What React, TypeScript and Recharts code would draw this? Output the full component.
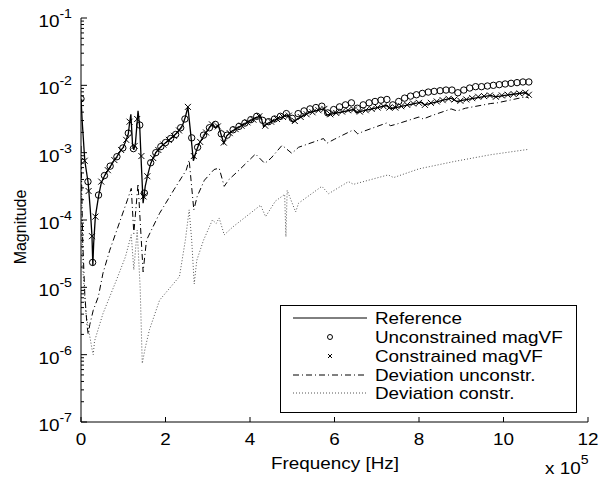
import React from 'react';
import { ComposedChart, Line, XAxis, YAxis, Legend } from 'recharts';

// frequency in units of 1e5 Hz, magnitudes stored as log10 values
const refF = [0, 0.03, 0.09, 0.17, 0.22, 0.26, 0.28, 0.30, 0.34, 0.42, 0.48, 0.56, 0.64, 0.70, 0.79, 0.85, 0.95, 1.00, 1.07, 1.12, 1.15, 1.18, 1.22, 1.25, 1.29, 1.35, 1.39, 1.43, 1.47, 1.52, 1.58, 1.65, 1.77, 1.89, 2.05, 2.16, 2.28, 2.40, 2.47, 2.53, 2.59, 2.66, 2.72, 2.80, 2.96, 3.11, 3.18, 3.25, 3.30, 3.38, 3.45, 3.55, 3.82, 4.05, 4.25, 4.32, 4.40, 4.60, 4.88, 5.02, 5.15, 5.39, 5.74, 5.82, 5.90, 6.45, 6.52, 6.60, 7.23, 7.33, 7.45, 8.05, 8.13, 8.25, 8.76, 8.90, 9.05, 9.70, 9.80, 10.49, 10.60];
const refLog = [-2.20, -2.55, -3.12, -3.45, -3.85, -4.24, -4.68, -4.35, -3.95, -3.63, -3.45, -3.34, -3.26, -3.20, -3.11, -3.06, -2.96, -2.92, -2.81, -2.72, -2.56, -2.43, -2.88, -2.96, -2.85, -2.38, -2.62, -3.20, -3.75, -3.50, -3.33, -3.16, -3.00, -2.91, -2.83, -2.77, -2.70, -2.60, -2.47, -2.32, -2.68, -3.12, -2.99, -2.86, -2.70, -2.57, -2.63, -2.59, -2.70, -2.86, -2.75, -2.69, -2.59, -2.51, -2.45, -2.61, -2.57, -2.51, -2.44, -2.55, -2.49, -2.41, -2.35, -2.44, -2.43, -2.36, -2.41, -2.39, -2.30, -2.35, -2.33, -2.25, -2.29, -2.27, -2.19, -2.24, -2.22, -2.15, -2.17, -2.11, -2.14];

const uncF = [0, 0.165, 0.275, 0.415, 0.555, 0.69, 0.85, 0.99, 1.12, 1.24, 1.39, 1.50, 1.65, 1.77, 1.89, 2.00, 2.12, 2.24, 2.36, 2.46, 2.62, 2.76, 2.90, 3.04, 3.18, 3.32, 3.46, 3.60, 3.74, 3.88, 4.02, 4.16, 4.30, 4.44, 4.58, 4.72, 4.86, 5.00, 5.14, 5.28, 5.42, 5.56, 5.70, 5.84, 5.98, 6.12, 6.26, 6.40, 6.54, 6.68, 6.82, 6.96, 7.10, 7.24, 7.38, 7.52, 7.66, 7.80, 7.94, 8.08, 8.22, 8.36, 8.50, 8.64, 8.78, 8.92, 9.06, 9.20, 9.34, 9.48, 9.62, 9.76, 9.90, 10.04, 10.18, 10.32, 10.46, 10.60];
const uncLog = [-2.20, -3.43, -4.63, -3.63, -3.34, -3.20, -3.06, -2.93, -2.71, -2.94, -2.59, -3.60, -3.15, -3.00, -2.91, -2.85, -2.79, -2.73, -2.63, -2.50, -2.78, -2.92, -2.74, -2.63, -2.58, -2.72, -2.74, -2.66, -2.61, -2.56, -2.51, -2.46, -2.52, -2.54, -2.50, -2.46, -2.42, -2.49, -2.42, -2.38, -2.35, -2.33, -2.31, -2.41, -2.36, -2.32, -2.29, -2.26, -2.34, -2.29, -2.26, -2.24, -2.22, -2.21, -2.29, -2.24, -2.19, -2.16, -2.14, -2.12, -2.10, -2.09, -2.08, -2.07, -2.07, -2.11, -2.07, -2.04, -2.02, -2.02, -2.01, -2.00, -1.99, -1.98, -1.97, -1.96, -1.95, -1.95];

const conF = [0.087, 0.18, 0.26, 0.34, 0.48, 0.635, 0.79, 0.95, 1.07, 1.15, 1.27, 1.33, 1.43, 1.48, 1.57, 1.71, 1.83, 1.95, 2.08, 2.20, 2.32, 2.53, 2.67, 2.82, 2.96, 3.10, 3.24, 3.38, 3.52, 3.66, 3.80, 3.94, 4.08, 4.22, 4.36, 4.50, 4.64, 4.78, 4.92, 5.06, 5.20, 5.34, 5.48, 5.62, 5.76, 5.90, 6.04, 6.18, 6.32, 6.46, 6.60, 6.74, 6.88, 7.02, 7.16, 7.30, 7.44, 7.58, 7.72, 7.86, 8.00, 8.14, 8.28, 8.42, 8.56, 8.70, 8.84, 8.98, 9.12, 9.26, 9.40, 9.54, 9.68, 9.82, 9.96, 10.10, 10.24, 10.38, 10.52, 10.60];
const conLog = [-3.12, -3.57, -4.24, -3.95, -3.43, -3.26, -3.11, -2.96, -2.81, -2.54, -2.90, -2.50, -3.05, -3.65, -3.35, -3.08, -2.96, -2.88, -2.81, -2.75, -2.67, -2.32, -3.05, -2.84, -2.70, -2.58, -2.61, -2.85, -2.71, -2.65, -2.60, -2.55, -2.51, -2.46, -2.60, -2.54, -2.50, -2.47, -2.45, -2.53, -2.47, -2.43, -2.40, -2.37, -2.35, -2.43, -2.41, -2.39, -2.37, -2.36, -2.39, -2.37, -2.35, -2.33, -2.31, -2.33, -2.33, -2.31, -2.29, -2.27, -2.26, -2.29, -2.26, -2.24, -2.22, -2.20, -2.21, -2.23, -2.21, -2.19, -2.17, -2.16, -2.15, -2.17, -2.15, -2.14, -2.13, -2.12, -2.11, -2.14];

const devUncF = [0, 0.04, 0.09, 0.14, 0.17, 0.21, 0.29, 0.41, 0.52, 0.68, 0.96, 1.10, 1.19, 1.25, 1.35, 1.47, 1.55, 1.86, 2.20, 2.49, 2.56, 2.67, 2.75, 2.92, 3.15, 3.27, 3.39, 3.50, 3.74, 4.13, 4.35, 4.50, 4.76, 4.99, 5.15, 5.74, 5.82, 6.00, 6.45, 6.55, 6.70, 7.23, 7.33, 7.50, 8.00, 8.10, 8.30, 8.76, 8.90, 9.10, 9.70, 9.85, 10.53, 10.60];
const devUncLog = [-2.90, -4.30, -5.10, -5.55, -5.70, -5.55, -5.34, -5.14, -4.79, -4.45, -3.95, -3.70, -3.53, -4.20, -3.46, -4.77, -4.30, -3.90, -3.55, -3.26, -3.11, -3.85, -3.65, -3.41, -3.25, -3.23, -3.50, -3.40, -3.26, -3.02, -3.16, -3.08, -2.89, -3.01, -2.92, -2.79, -2.86, -2.80, -2.66, -2.72, -2.68, -2.56, -2.60, -2.57, -2.47, -2.50, -2.45, -2.35, -2.38, -2.34, -2.27, -2.26, -2.17, -2.19];

const devConF = [0, 0.05, 0.12, 0.20, 0.27, 0.29, 0.32, 0.52, 0.84, 1.05, 1.19, 1.25, 1.33, 1.40, 1.45, 1.52, 1.62, 1.86, 2.33, 2.47, 2.56, 2.62, 2.68, 2.74, 2.90, 3.11, 3.20, 3.27, 3.39, 3.60, 4.25, 4.37, 4.60, 4.82, 4.85, 4.88, 5.08, 5.15, 5.70, 5.86, 6.33, 6.45, 7.27, 7.40, 8.00, 8.84, 9.70, 10.60];
const devConLog = [-3.20, -4.80, -5.40, -5.70, -5.95, -6.00, -5.80, -5.39, -4.89, -4.55, -4.22, -4.74, -4.15, -5.00, -6.13, -5.90, -5.63, -5.19, -4.84, -4.30, -3.85, -4.30, -4.95, -4.60, -4.30, -4.00, -4.05, -3.97, -4.22, -4.10, -3.78, -3.95, -3.72, -3.62, -4.25, -3.56, -3.88, -3.75, -3.50, -3.61, -3.43, -3.47, -3.33, -3.37, -3.24, -3.13, -3.03, -2.95];

const xTicks = [0, 2, 4, 6, 8, 10, 12];
const yDecades = [-7, -6, -5, -4, -3, -2, -1];
const yMinor = [2, 3, 4, 5, 6, 7, 8, 9];

const toSeries = (f: number[], lg: number[]) => f.map((x, i) => ({ f: x, v: Math.pow(10, lg[i]) }));

const refData = toSeries(refF, refLog);
const uncData = toSeries(uncF, uncLog);
const conData = toSeries(conF, conLog);
const devUncData = toSeries(devUncF, devUncLog);
const devConData = toSeries(devConF, devConLog);

const yTicks = [
  ...yDecades.map((d) => Math.pow(10, d)),
  ...yDecades.slice(0, -1).flatMap((d) => yMinor.map((m) => m * Math.pow(10, d))),
].sort((a, b) => a - b);

const FONT = "'Liberation Sans', Arial, Helvetica, sans-serif";
const SX = 1.18;

const isDecade = (v: number) => {
  const e = Math.log10(v);
  return Math.abs(e - Math.round(e)) < 1e-6;
};

const LeftTick = (props: any) => {
  const { x, y, payload } = props;
  const major = isDecade(payload.value);
  return (
    <g>
      <line x1={x} x2={x + (major ? 6 : 3)} y1={y} y2={y} stroke="#000" />
      {major && (
        <g transform={`translate(${x - 9},${y + 9}) scale(${SX},1)`}>
          <text textAnchor="end" fontFamily={FONT} fontSize={16} fill="#000">
            <tspan>10</tspan>
            <tspan fontSize={12} dy={-9}>{String(Math.round(Math.log10(payload.value)))}</tspan>
          </text>
        </g>
      )}
    </g>
  );
};

const RightTick = (props: any) => {
  const { x, y, payload } = props;
  const major = isDecade(payload.value);
  return <line x1={x} x2={x - (major ? 6 : 3)} y1={y} y2={y} stroke="#000" />;
};

const BottomTick = (props: any) => {
  const { x, y, payload } = props;
  return (
    <g>
      <line x1={x} x2={x} y1={y} y2={y - 5} stroke="#000" />
      <g transform={`translate(${x},${y + 23}) scale(${SX},1)`}>
        <text textAnchor="middle" fontFamily={FONT} fontSize={16} fill="#000">{payload.value}</text>
      </g>
    </g>
  );
};

const TopTick = (props: any) => {
  const { x, y } = props;
  return <line x1={x} x2={x} y1={y} y2={y + 5} stroke="#000" />;
};

const XTitle = () => (
  <g>
    <g transform={`translate(335,469) scale(${SX},1)`}>
      <text textAnchor="middle" fontFamily={FONT} fontSize={16} fill="#000">Frequency [Hz]</text>
    </g>
    <g transform={`translate(545,474) scale(${SX},1)`}>
      <text fontFamily={FONT} fontSize={16} fill="#000">
        <tspan>x 10</tspan>
        <tspan fontSize={12} dy={-10}>5</tspan>
      </text>
    </g>
  </g>
);

const YTitle = () => (
  <text
    transform="translate(26,227) rotate(-90)"
    textAnchor="middle"
    fontFamily={FONT}
    fontSize={16}
    fill="#000"
  >
    Magnitude
  </text>
);

const CircleMark = (p: any) => {
  if (p.cx == null || p.cy == null) return null;
  return <circle key={`c${p.index}`} cx={p.cx} cy={p.cy} r={3.2} fill="none" stroke="#000" strokeWidth={1} />;
};

const CrossMark = (p: any) => {
  if (p.cx == null || p.cy == null) return null;
  const s = 3;
  return (
    <path
      key={`x${p.index}`}
      d={`M${p.cx - s},${p.cy - s}L${p.cx + s},${p.cy + s}M${p.cx - s},${p.cy + s}L${p.cx + s},${p.cy - s}`}
      stroke="#000"
      strokeWidth={1}
      fill="none"
    />
  );
};

const legendRows = [
  'Reference',
  'Unconstrained magVF',
  'Constrained magVF',
  'Deviation unconstr.',
  'Deviation constr.',
];

const LegendBox = () => {
  const rowY = [13, 32, 51, 70, 88];
  return (
    <svg width={297} height={108} style={{ display: 'block' }}>
      <rect x={0.5} y={0.5} width={296} height={107} fill="#fff" stroke="#000" />
      <line x1={13} x2={87} y1={rowY[0]} y2={rowY[0]} stroke="#000" />
      <circle cx={50} cy={rowY[1]} r={2.5} fill="none" stroke="#000" />
      <path d={`M${48},${rowY[2] - 2}L${52},${rowY[2] + 2}M${48},${rowY[2] + 2}L${52},${rowY[2] - 2}`} stroke="#000" />
      <line x1={13} x2={87} y1={rowY[3]} y2={rowY[3]} stroke="#000" strokeDasharray="6 3 1 3" />
      <line x1={13} x2={87} y1={rowY[4]} y2={rowY[4]} stroke="#555" strokeDasharray="1 2" />
      {legendRows.map((t, i) => (
        <g key={t} transform={`translate(95,${rowY[i] + 6}) scale(${SX},1)`}>
          <text fontFamily={FONT} fontSize={16} fill="#000">{t}</text>
        </g>
      ))}
    </svg>
  );
};

export default function App() {
  return (
    <div style={{ position: 'absolute', left: 0, top: 0, width: 602, height: 480, background: '#fff' }}>
      <ComposedChart width={602} height={480} margin={{ top: 18, right: 14, bottom: 0, left: 0 }}>
        <XAxis
          xAxisId="b"
          dataKey="f"
          type="number"
          domain={[0, 12]}
          ticks={xTicks}
          interval={0}
          allowDataOverflow
          height={58}
          tickSize={0}
          tickMargin={0}
          tickLine={false}
          axisLine={{ stroke: '#000' }}
          tick={BottomTick}
          label={<XTitle />}
        />
        <XAxis
          xAxisId="t"
          orientation="top"
          dataKey="f"
          type="number"
          domain={[0, 12]}
          ticks={xTicks}
          interval={0}
          allowDataOverflow
          height={0}
          tickSize={0}
          tickMargin={0}
          tickLine={false}
          axisLine={{ stroke: '#000' }}
          tick={TopTick}
        />
        <YAxis
          yAxisId="l"
          type="number"
          scale="log"
          domain={[1e-7, 1e-1]}
          ticks={yTicks}
          interval={0}
          allowDataOverflow
          width={81}
          tickSize={0}
          tickMargin={0}
          tickLine={false}
          axisLine={{ stroke: '#000' }}
          tick={LeftTick}
          label={<YTitle />}
        />
        <YAxis
          yAxisId="r"
          orientation="right"
          type="number"
          scale="log"
          domain={[1e-7, 1e-1]}
          ticks={yTicks}
          interval={0}
          allowDataOverflow
          width={0}
          tickSize={0}
          tickMargin={0}
          tickLine={false}
          axisLine={{ stroke: '#000' }}
          tick={RightTick}
        />
        <Legend
          layout="vertical"
          align="center"
          verticalAlign="middle"
          wrapperStyle={{ left: 280, top: 305, width: 297, height: 108 }}
          content={() => <LegendBox />}
        />
        <Line
          xAxisId="t"
          yAxisId="r"
          data={devConData}
          dataKey="v"
          stroke="#555"
          strokeWidth={1}
          strokeDasharray="1 2"
          dot={false}
          activeDot={false}
          isAnimationActive={false}
        />
        <Line
          xAxisId="b"
          yAxisId="l"
          data={devUncData}
          dataKey="v"
          stroke="#000"
          strokeWidth={1}
          strokeDasharray="6 3 1 3"
          dot={false}
          activeDot={false}
          isAnimationActive={false}
        />
        <Line
          xAxisId="b"
          yAxisId="l"
          data={refData}
          dataKey="v"
          stroke="#000"
          strokeWidth={1.3}
          dot={false}
          activeDot={false}
          isAnimationActive={false}
        />
        <Line
          xAxisId="b"
          yAxisId="l"
          data={uncData}
          dataKey="v"
          stroke="none"
          dot={CircleMark}
          activeDot={false}
          isAnimationActive={false}
        />
        <Line
          xAxisId="b"
          yAxisId="l"
          data={conData}
          dataKey="v"
          stroke="none"
          dot={CrossMark}
          activeDot={false}
          isAnimationActive={false}
        />
      </ComposedChart>
    </div>
  );
}
